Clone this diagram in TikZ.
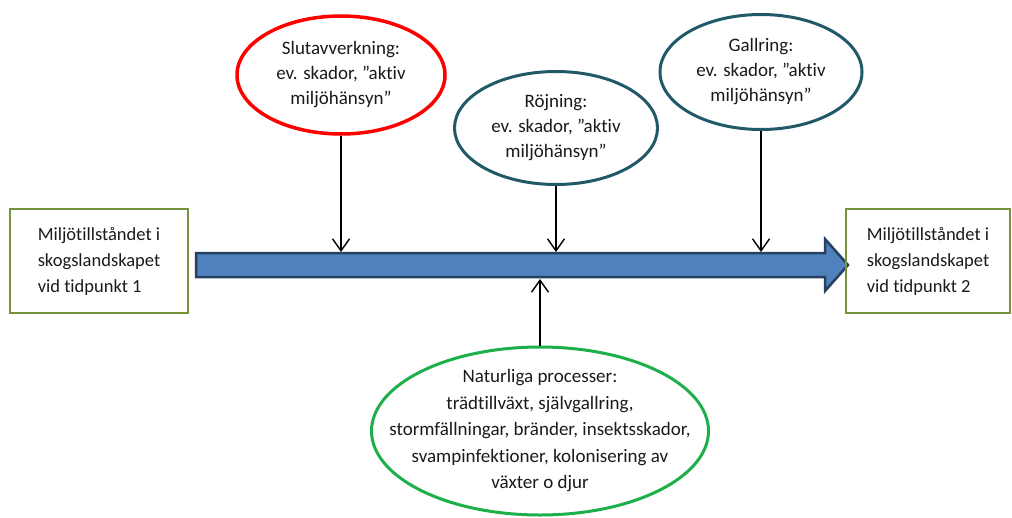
\documentclass[tikz,border=0pt]{standalone}
\usepackage{fontspec}
\setmainfont[Ligatures=NoCommon]{Carlito}
\usetikzlibrary{shapes.geometric, arrows.meta}
\definecolor{boxgreen}{HTML}{77933C}
\definecolor{flowblue}{HTML}{4F81BD}
\definecolor{flowedge}{HTML}{254061}
\definecolor{tealring}{HTML}{215968}
\definecolor{natgreen}{HTML}{1DB04A}
\definecolor{inktext}{HTML}{1A1A1A}

\begin{document}
\begin{tikzpicture}[x=1pt, y=-1pt,
    statebox/.style={rectangle, draw=boxgreen, line width=2.8pt, minimum width=178pt, minimum height=104pt, align=left, text=inktext, font=\fontsize{18.5}{26}\selectfont},
    ring/.style={ellipse, line width=3pt, inner sep=0pt, align=center, text=inktext, font=\fontsize{19}{25}\selectfont},
    drop/.style={-{Straight Barb[length=12pt,width=17pt]}, line width=1.4pt}]
    \useasboundingbox (0,0) rectangle (1012,517);
    % Flow over time
    \draw[fill=flowblue, draw=flowedge, line width=2.5pt, line join=miter] (196,253) -- (825,253) -- (825,239) -- (848,265) -- (825,291) -- (825,277) -- (196,277) -- cycle;
    % States
    \node[statebox] (start) at (99,261) {Miljötillståndet i\\skogslandskapet\\vid tidpunkt 1};
    \node[statebox, minimum width=164pt] (finish) at (928,261) {Miljötillståndet i\\skogslandskapet\\vid tidpunkt 2};
    % Interventions
    \node[ring, draw=red, line width=3.5pt, minimum width=208pt, minimum height=118pt] (slut) at (341,75) {Slutavverkning:\\ev. skador, ”aktiv\\miljöhänsyn”};
    \node[ring, draw=tealring, minimum width=203pt, minimum height=113pt] (rojn) at (556,128) {Röjning:\\ev. skador, ”aktiv\\miljöhänsyn”};
    \node[ring, draw=tealring, minimum width=202pt, minimum height=115pt] (gall) at (761,72) {Gallring:\\ev. skador, ”aktiv\\miljöhänsyn”};
    \node[ring, draw=natgreen, inner xsep=-50pt, inner ysep=-30pt, minimum width=337pt, minimum height=168pt, font=\fontsize{19}{26.5}\selectfont] (natur) at (540,431) {Naturliga processer:\\trädtillväxt, självgallring,\\stormfällningar, bränder, insektsskador,\\svampinfektioner, kolonisering av\\växter o djur};
    \coordinate (hit1) at (341,252);
    \coordinate (hit2) at (556,252);
    \coordinate (hit3) at (761,252);
    \coordinate (hit4) at (540,279);
    \draw[drop] (slut) -- (hit1);
    \draw[drop] (rojn) -- (hit2);
    \draw[drop] (gall) -- (hit3);
    \draw[drop] (natur) -- (hit4);
\end{tikzpicture}
\end{document}
